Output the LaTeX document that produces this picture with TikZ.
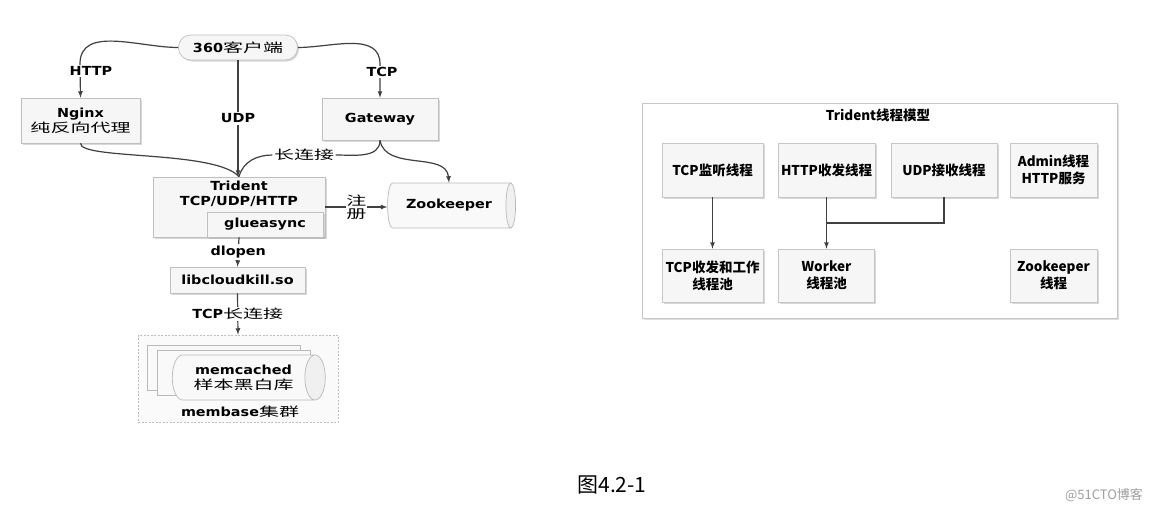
\documentclass[tikz,border=0pt]{standalone}
\usepackage{fontspec}
\setmainfont{DejaVu Sans}[FakeStretch=1.15]
\newfontfamily\zhfont{Noto Sans CJK SC}[FakeStretch=1.6]
\newfontfamily\rtfont{Noto Sans CJK SC}
\usepackage{tikz}
\usetikzlibrary{positioning,shapes.geometric,shadows}
\newcommand{\zh}[1]{{\zhfont\mdseries #1}}
\newcommand{\leftfont}{\fontsize{12.5}{15}\selectfont\bfseries}
\newcommand{\modelfont}{\rtfont\fontsize{13.5}{17}\selectfont\bfseries}

\begin{document}
\begin{tikzpicture}[x=1pt,y=-1pt,>=latex,line width=1.2pt,draw=black!75]
	\tikzstyle{box}=[draw=gray!50,fill=gray!7,line width=0.7pt,drop shadow={shadow xshift=1.5pt,shadow yshift=-1.5pt,opacity=0.3},font=\leftfont,align=center,inner sep=2pt]
	\tikzstyle{lbl}=[fill=white,font=\leftfont,inner sep=1.5pt,align=center]
	\tikzstyle{cyl}=[cylinder,shape aspect=0.8,draw=gray!55,line width=0.7pt,cylinder uses custom fill,cylinder body fill=gray!5,cylinder end fill=gray!12,minimum height=128,minimum width=45,inner sep=0pt,font=\leftfont,align=center]
	\tikzstyle{thr}=[draw=gray!45,fill=gray!7,line width=0.7pt,drop shadow={shadow xshift=1.5pt,shadow yshift=-1.5pt,opacity=0.3},font=\modelfont,align=center,minimum height=54,inner sep=1pt]
	\fill[white] (0,0) rectangle (1162,514);
	\useasboundingbox (0,0) rectangle (1162,514);
	% left: access path
		\node[box,rounded corners=12,minimum width=119,minimum height=25] (cl) at (238,47.5) {360\zh{客户端}};
		\node[box,minimum width=119,minimum height=45] (ng) at (80.5,120.5) {Nginx\\\zh{纯反向代理}};
		\node[box,minimum width=116,minimum height=42] (gw) at (380,119) {Gateway};
		\coordinate (hc) at (80,64);
		\coordinate (tc) at (380,64);
			\draw[->] (cl.west) to[out=180,in=90] (hc) -- (ng.north);
			\draw[->] (cl.east) to[out=0,in=90] (tc) -- (gw.north);
		\node[lbl] (hl) at (91,71) {HTTP};
		\node[lbl] (tl) at (382,72) {TCP};
		\node[box,minimum width=172,minimum height=60,drop shadow={opacity=0}] (tr) at (239,207) {};
		\node[font=\leftfont,align=center] (trt) at (239,194) {Trident\\TCP/UDP/HTTP};
		\node[box,minimum width=116,minimum height=25,drop shadow={opacity=0}] (ga) at (265,224.5) {glueasync};
			\draw[->] (cl.south) -- node[lbl] (ul) {UDP} (cl.south |- tr.north);
		\node[font=\leftfont,inner sep=1pt] (ll) at (304,155) {\zh{长连接}};
			\draw (ng.south) .. controls (80,160) and (215,150) .. (tr.north);
			\draw (gw.south) to[out=-90,in=0] (ll.east);
			\draw (ll.west) to[out=180,in=75] (tr.north);
		\node[cyl] (zk) at (449,205.5) {Zookeeper};
			\draw[->] (gw.south) to[out=-80,in=95] (zk.north);
			\draw[->] (tr.east) -- node[lbl,inner sep=0.5pt] (reg) {\zh{注}\\[-2pt]\zh{册}} (tr.east -| zk.west);
	% left: storage side
		\node[box,minimum width=135,minimum height=26] (lk) at (237.5,280) {libcloudkill.so};
			\draw[->] (tr.south) -- node[lbl] (dl) {dlopen} (lk.north);
		\node[draw=gray!50,fill=gray!4,line width=0.7pt,dash pattern=on 2pt off 1.5pt,minimum width=200,minimum height=87] (mb) at (238,378.5) {};
			\draw[->] (lk.south) -- node[lbl] (tl2) {TCP\zh{长连接}} (mb.north);
		\node[cyl,minimum height=153] (mc3) at (223.5,367.5) {};
		\node[cyl,minimum height=153] (mc2) at (233.5,372.5) {};
		\node[cyl,minimum height=153] (mc1) at (243.5,377.5) {memcached\\\zh{样本黑白库}};
		\node[font=\leftfont] (mbl) at (240,412) {membase\zh{集群}};
	% right: Trident thread model
		\node[draw=gray!45,fill=white,line width=0.7pt,drop shadow={shadow xshift=1.5pt,shadow yshift=-1.5pt,opacity=0.25},minimum width=475,minimum height=215] (tm) at (879.5,210.5) {};
		\node[font=\modelfont] (tmt) at (878,115) {Trident线程模型};
		\node[thr,minimum width=101] (tcpl) at (712.5,170) {TCP监听线程};
		\node[thr,minimum width=97] (httpr) at (826.5,170) {HTTP收发线程};
		\node[thr,minimum width=106] (udpr) at (944,170) {UDP接收线程};
		\node[thr,minimum width=87] (adm) at (1053.5,170) {Admin线程\\HTTP服务};
		\node[thr,minimum width=101,minimum height=53] (tcpw) at (712.5,275.5) {TCP收发和工作\\线程池};
		\node[thr,minimum width=96,minimum height=53] (wk) at (826.5,275.5) {Worker\\线程池};
		\node[thr,minimum width=87,minimum height=53] (zkt) at (1053.5,275.5) {Zookeeper\\线程};
		\coordinate (jn) at (826.5,223);
			\draw[->] (tcpl) -- (tcpw);
			\draw[->] (httpr) -- (wk);
			\draw (udpr.south) |- (jn);
	% caption
		\node[font=\rtfont\fontsize{21}{24}\selectfont] (cap) at (612,485) {图4.2-1};
		\node[font=\rtfont\fontsize{13}{15}\selectfont,text=gray!75] (wm) at (1104,495) {@51CTO博客};
\end{tikzpicture}
\end{document}
